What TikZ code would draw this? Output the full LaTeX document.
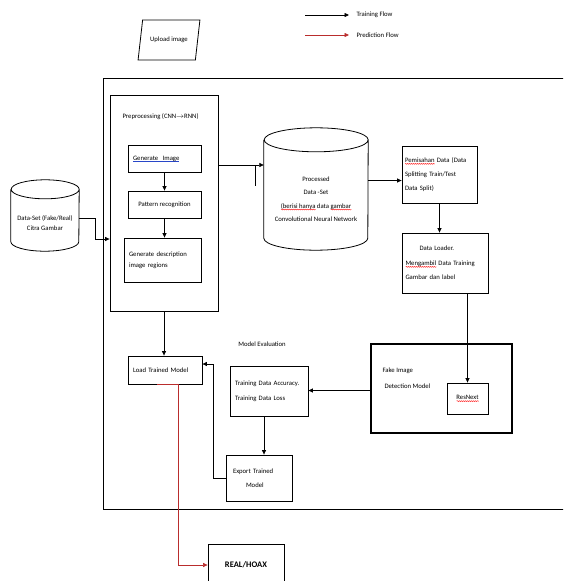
\documentclass[tikz,border=0pt]{standalone}
\usepackage{fontspec}
\setmainfont{Carlito}
\usetikzlibrary{arrows.meta,shapes.geometric,decorations.pathmorphing}
\definecolor{predred}{RGB}{185,45,45}
\definecolor{linkblue}{RGB}{40,70,200}
\newlength\marklen
\newcommand\redwave[1]{\leavevmode\settowidth\marklen{#1}\rlap{\raisebox{-2.2pt}{\tikz[x=1pt,y=1pt]\draw[red, line width=0.35pt, decorate, decoration={snake, amplitude=0.5pt, segment length=2pt}] (0,0) -- (\marklen,0);}}#1}
\newcommand\blueline[1]{\leavevmode\settowidth\marklen{#1}\rlap{\textcolor{linkblue}{\rule[-1.6pt]{\marklen}{0.5pt}}}#1}

\begin{document}
\begin{tikzpicture}[x=1pt, y=-1pt, font=\fontsize{6.7}{8.5}\selectfont,
  box/.style={draw, line width=0.8pt, inner xsep=5pt},
  dbline/.style={line width=0.8pt},
  flow/.style={-{Triangle[length=4.5pt,width=4pt]}, line width=0.7pt},
  pred/.style={-{Triangle[length=4.5pt,width=4pt]}, line width=0.6pt, draw=predred}]
  \useasboundingbox (0,0) rectangle (563,581);
  \clip (0,0) rectangle (563,581);

  % legend
  \coordinate (trA) at (305,15);
  \coordinate (trB) at (349,15);
  \coordinate (prA) at (305,35);
  \coordinate (prB) at (349,35);
  \draw[flow] (trA) -- (trB);
  \draw[pred] (prA) -- (prB);
  \node[anchor=west] (trtxt) at (353,15) {Training Flow};
  \node[anchor=west] (prtxt) at (353,35) {Prediction Flow};

  % input
  \node[trapezium, trapezium left angle=73, trapezium right angle=107, trapezium stretches=true,
        draw, line width=0.8pt, minimum width=62pt, minimum height=40pt] (upload) at (169,40) {Upload image};

  % outer frame
  \draw[line width=1pt] (103,78) rectangle (575,509);

  % preprocessing
  \node[box, minimum width=108pt, minimum height=216pt] (pre) at (164,203) {};
  \node[anchor=west] (pretitle) at (119,117) {Preprocessing (CNN$\rightarrow$RNN)};
  \node[box, minimum width=73pt, minimum height=27pt, text width=63pt, align=left] (gen) at (164.5,159) {\blueline{Generate\ \ Image}};
  \node[box, minimum width=73pt, minimum height=27pt] (pat) at (164.5,204.5) {Pattern recognition};
  \node[box, minimum width=77pt, minimum height=44pt, text width=67pt, align=left] (desc) at (162.5,260) {Generate description\\[2pt]image regions};
  \draw[flow] (gen.south) -- (pat.north);
  \draw[flow] (pat.south) -- (pat.south |- desc.north);

  % data set (cylinder)
  \node[minimum width=68pt, minimum height=71pt] (ds) at (45,215.5) {};
  \draw[dbline] ([yshift=-9.5pt]ds.north west) -- ([yshift=9.5pt]ds.south west)
    arc[start angle=180, end angle=360, x radius=34pt, y radius=9.5pt] -- ([yshift=-9.5pt]ds.north east)
    arc[start angle=0, end angle=360, x radius=34pt, y radius=9.5pt];
  \node[align=center] (dstxt) at (45,223) {Data-Set (Fake/Real)\\[2pt]Citra Gambar};
  \draw[flow] ([yshift=-2.5pt]ds.east) -- ++(16,0) |- ([yshift=-36pt]pre.west);

  % processed data set (cylinder)
  \node[minimum width=104pt, minimum height=122pt] (pd) at (316,189) {};
  \draw[dbline] ([yshift=-12pt]pd.north west) -- ([yshift=12pt]pd.south west)
    arc[start angle=180, end angle=360, x radius=52pt, y radius=12pt] -- ([yshift=-12pt]pd.north east)
    arc[start angle=0, end angle=360, x radius=52pt, y radius=12pt];
  \node[align=center, font=\fontsize{6.7}{13.5}\selectfont] (pdtxt) at (316,199)
    {Processed\\Data -Set\\\redwave{(berisi hanya} data \redwave{gambar}\\Convolutional Neural Network};
  \draw[flow] ([yshift=38pt]pre.east) -- ([yshift=38pt]pre.east -| pd.west);
  \coordinate (tick) at (255,165);
  \draw[line width=0.7pt] (tick) -- ++(0,21);

  % training branch
  \node[box, minimum width=75pt, minimum height=57pt, text width=69pt, align=left, inner xsep=3pt,
        font=\fontsize{6.7}{14}\selectfont] (split) at (439.5,174.5)
    {\redwave{Pemisahan} Data (Data\\ Splitting Train/Test\\ Data Split)};
  \draw[flow] ([yshift=-6pt]pd.east |- split.west) -- ([yshift=-6pt]split.west);
  \node[box, minimum width=86pt, minimum height=60pt, text width=80pt, align=left, inner xsep=3pt,
        font=\fontsize{6.7}{14.5}\selectfont] (loader) at (445.5,263)
    {\hspace{14pt}Data Loader.\\\redwave{Mengambil} Data Training\\Gambar dan label};
  \draw[flow] (split.south) -- (split.south |- loader.north);

  \node[draw, line width=1.8pt, minimum width=141pt, minimum height=89pt] (fake) at (441.5,388.5) {};
  \node[anchor=west, align=left, font=\fontsize{6.7}{16}\selectfont] (faketxt) at (379,378) {Fake Image\\\hspace{2pt}Detection Model};
  \node[box, minimum width=41pt, minimum height=31pt, inner xsep=2pt] (resnext) at (467.5,398.5) {\redwave{ResNext}};
  \draw[flow] (resnext.north |- loader.south) -- (resnext.north);

  % evaluation
  \node (evaltxt) at (262,344) {Model Evaluation};
  \node[box, minimum width=78pt, minimum height=50pt, text width=68pt, align=left,
        font=\fontsize{6.7}{15}\selectfont] (acc) at (269,391) {Training Data Accuracy.\\Training Data Loss};
  \draw[flow] ([yshift=-2pt]fake.west) -- ([yshift=-2pt]fake.west -| acc.east);
  \node[box, minimum width=66pt, minimum height=46pt, text width=52pt, inner xsep=7pt, align=left,
        font=\fontsize{6.7}{14}\selectfont] (export) at (259,478) {Export Trained\\\hspace{13pt}Model};
  \draw[flow] ([xshift=-5pt]acc.south) -- ([xshift=-5pt]acc.south |- export.north);

  \node[box, minimum width=74pt, minimum height=28pt, text width=64pt, align=left] (load) at (165,370) {Load Trained Model};
  \draw[flow] (pre.south) -- (pre.south |- load.north);
  \draw[flow] (export.west) -- ++(-12,0) |- ([yshift=6pt]load.east);

  % prediction output
  \node[box, minimum width=76pt, minimum height=42pt, font=\fontsize{8.5}{11}\selectfont\bfseries] (result) at (246,565) {REAL/HOAX};
  \draw[predred, line width=0.9pt] ([xshift=-8pt]load.south) -- ([xshift=13pt]load.south);
  \draw[pred] ([xshift=13pt]load.south) |- (result.west);
\end{tikzpicture}
\end{document}
